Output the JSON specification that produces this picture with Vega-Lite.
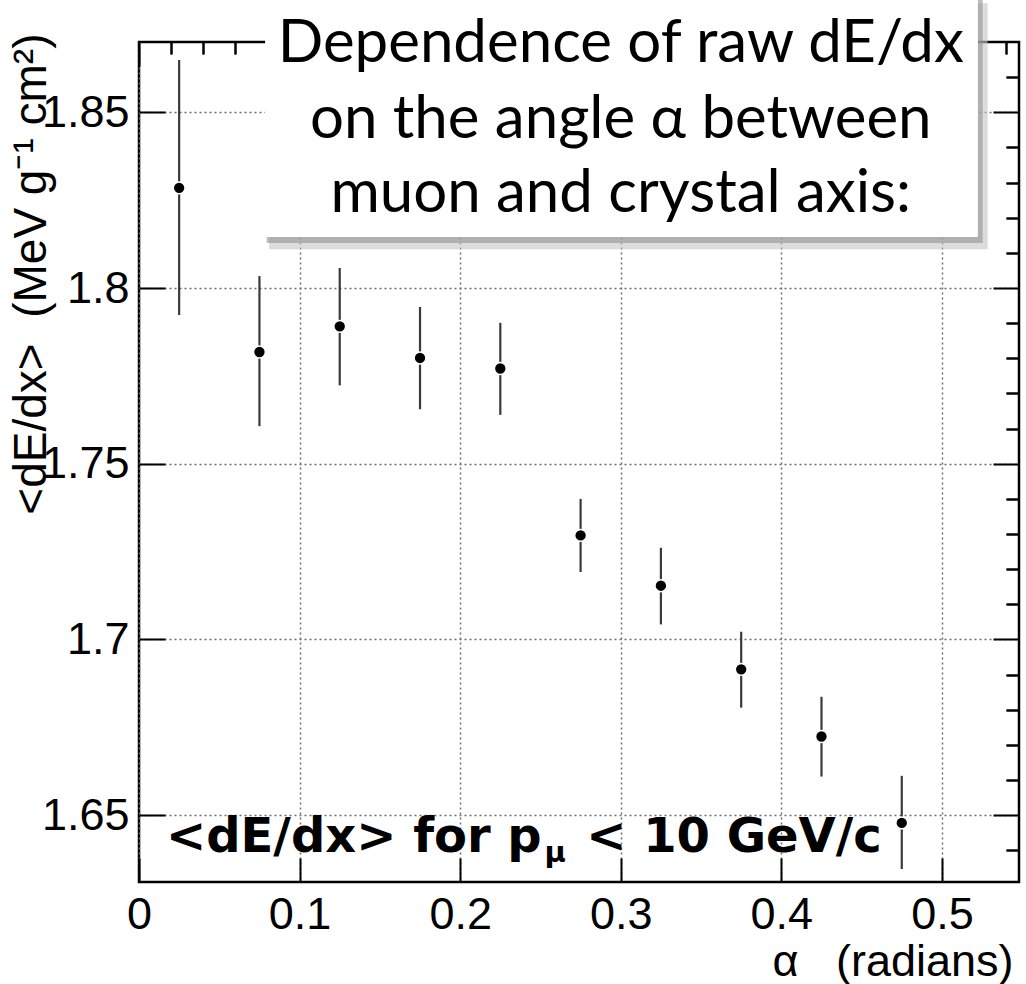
{
  "$schema": "https://vega.github.io/schema/vega-lite/v6.json",
  "width": 880,
  "height": 840,
  "autosize": "none",
  "padding": {"left": 139, "top": 42, "right": 7, "bottom": 102},
  "background": "white",
  "config": {
    "view": {"stroke": "black", "strokeWidth": 2.5},
    "axis": {
      "labelFont": "Liberation Sans",
      "titleFont": "Liberation Sans",
      "labelColor": "black",
      "titleColor": "black",
      "titleFontWeight": "normal",
      "tickColor": "black",
      "domain": false,
      "gridColor": "#6f6f6f",
      "gridDash": [2, 3],
      "gridWidth": 1.5
    }
  },
  "datasets": {
    "pts": [
      {"x": 0.025, "y": 1.8285, "lo": 1.7923, "hi": 1.8649},
      {"x": 0.075, "y": 1.7818, "lo": 1.7607, "hi": 1.8034},
      {"x": 0.125, "y": 1.7891, "lo": 1.7723, "hi": 1.8057},
      {"x": 0.175, "y": 1.7801, "lo": 1.7655, "hi": 1.7946},
      {"x": 0.225, "y": 1.7771, "lo": 1.7639, "hi": 1.7901},
      {"x": 0.275, "y": 1.7296, "lo": 1.7192, "hi": 1.74},
      {"x": 0.325, "y": 1.7153, "lo": 1.7043, "hi": 1.7261},
      {"x": 0.375, "y": 1.6915, "lo": 1.6806, "hi": 1.7022},
      {"x": 0.425, "y": 1.6724, "lo": 1.661, "hi": 1.6837},
      {"x": 0.475, "y": 1.6478, "lo": 1.6347, "hi": 1.6612}
    ],
    "box": [{"x": 0.0785, "x2": 0.5224, "y": 1.8825, "y2": 1.8145}],
    "shadowA": [{"x": 0.0795, "x2": 0.5254, "y": 1.882, "y2": 1.8128}],
    "shadowB": [{"x": 0.081, "x2": 0.5285, "y": 1.881, "y2": 1.811}],
    "notes": [
      {"x": 0.3, "y": 1.8643, "label": "Dependence of raw dE/dx"},
      {"x": 0.3, "y": 1.8427, "label": "on the angle α between"},
      {"x": 0.3, "y": 1.8216, "label": "muon and crystal axis:"}
    ],
    "cond1": [{"x": 0.0168, "y": 1.6394, "label": "<dE/dx> for p"}],
    "cond2": [{"x": 0.2525, "y": 1.6366, "label": "μ"}],
    "cond3": [{"x": 0.2785, "y": 1.6394, "label": "<\u00a010 GeV/c"}]
  },
  "layer": [
    {
      "data": {"name": "pts"},
      "mark": {"type": "rule", "color": "#3a3a3a", "strokeWidth": 2.2},
      "encoding": {
        "x": {
          "field": "x", "type": "quantitative",
          "scale": {"domain": [0, 0.548], "nice": false, "zero": false},
          "axis": {
            "values": [0, 0.1, 0.2, 0.3, 0.4, 0.5], "format": "~g",
            "ticks": false, "tickSize": 0, "labelFontSize": 45, "labelPadding": 10,
            "grid": true, "labelFlush": false,
            "title": "α\u00a0\u00a0\u00a0(radians)", "titleFontSize": 45,
            "titleAnchor": "end", "titleAlign": "right", "titleX": 874, "titleY": 93, "titleBaseline": "alphabetic"
          }
        },
        "y": {
          "field": "lo", "type": "quantitative",
          "scale": {"domain": [1.631, 1.87], "nice": false, "zero": false},
          "axis": {
            "values": [1.65, 1.7, 1.75, 1.8, 1.85], "format": "~g",
            "ticks": false, "tickSize": 0, "labelFontSize": 45, "labelPadding": 10,
            "grid": true, "labelFlush": false,
            "title": "<dE/dx>\u00a0\u00a0(MeV\u00a0g⁻¹\u00a0cm²)", "titleFontSize": 46,
            "titleX": -108, "titleY": -9, "titleAngle": -90, "titleAlign": "right", "titleBaseline": "middle"
          }
        },
        "y2": {"field": "hi"}
      }
    },
    {
      "data": {"name": "pts"},
      "mark": {"type": "circle", "color": "black", "opacity": 1, "size": 140, "stroke": "white", "strokeWidth": 1.5},
      "encoding": {
        "x": {
          "field": "x", "type": "quantitative",
          "axis": {
            "values": [0.02, 0.04, 0.06, 0.08, 0.12, 0.14, 0.16, 0.18, 0.22, 0.24, 0.26, 0.28, 0.32, 0.34, 0.36, 0.38, 0.42, 0.44, 0.46, 0.48, 0.52, 0.54],
            "offset": -12, "tickSize": 12, "tickWidth": 2, "labels": false, "grid": false, "title": null
          }
        },
        "y": {
          "field": "y", "type": "quantitative",
          "axis": {
            "values": [1.64, 1.66, 1.67, 1.68, 1.69, 1.71, 1.72, 1.73, 1.74, 1.76, 1.77, 1.78, 1.79, 1.81, 1.82, 1.83, 1.84, 1.86],
            "offset": -13, "tickSize": 13, "tickWidth": 2, "labels": false, "grid": false, "title": null
          }
        }
      }
    },
    {
      "data": {"name": "shadowB"},
      "mark": {"type": "rect", "color": "#c4c4c4", "opacity": 0.6},
      "encoding": {
        "x": {"field": "x", "type": "quantitative",
          "axis": {"orient": "top", "values": [0, 0.1, 0.2, 0.3, 0.4, 0.5], "offset": -24, "tickSize": 24, "tickWidth": 2, "labels": false, "grid": false, "title": null}},
        "x2": {"field": "x2"},
        "y": {"field": "y", "type": "quantitative",
          "axis": {"orient": "right", "values": [1.65, 1.7, 1.75, 1.8, 1.85], "offset": -26, "tickSize": 26, "tickWidth": 2, "labels": false, "grid": false, "title": null}},
        "y2": {"field": "y2"}
      }
    },
    {
      "data": {"name": "shadowA"},
      "mark": {"type": "rect", "color": "#939393", "opacity": 0.6},
      "encoding": {
        "x": {"field": "x", "type": "quantitative",
          "axis": {"orient": "top",
            "values": [0.02, 0.04, 0.06, 0.08, 0.12, 0.14, 0.16, 0.18, 0.22, 0.24, 0.26, 0.28, 0.32, 0.34, 0.36, 0.38, 0.42, 0.44, 0.46, 0.48, 0.52, 0.54],
            "offset": -12, "tickSize": 12, "tickWidth": 2, "labels": false, "grid": false, "title": null}},
        "x2": {"field": "x2"},
        "y": {"field": "y", "type": "quantitative",
          "axis": {"orient": "right",
            "values": [1.64, 1.66, 1.67, 1.68, 1.69, 1.71, 1.72, 1.73, 1.74, 1.76, 1.77, 1.78, 1.79, 1.81, 1.82, 1.83, 1.84, 1.86],
            "offset": -13, "tickSize": 13, "tickWidth": 2, "labels": false, "grid": false, "title": null}},
        "y2": {"field": "y2"}
      }
    },
    {
      "data": {"name": "box"},
      "mark": {"type": "rect", "color": "white", "opacity": 1},
      "encoding": {
        "x": {"field": "x", "type": "quantitative",
          "axis": {"values": [0, 0.1, 0.2, 0.3, 0.4, 0.5], "offset": -24, "tickSize": 24, "tickWidth": 2, "labels": false, "grid": false, "title": null}},
        "x2": {"field": "x2"},
        "y": {"field": "y", "type": "quantitative",
          "axis": {"values": [1.65, 1.7, 1.75, 1.8, 1.85], "offset": -26, "tickSize": 26, "tickWidth": 2, "labels": false, "grid": false, "title": null}},
        "y2": {"field": "y2"}
      }
    },
    {
      "data": {"name": "notes"},
      "mark": {"type": "text", "font": "Lato", "fontSize": 60, "align": "center", "baseline": "alphabetic", "color": "black"},
      "encoding": {
        "x": {"field": "x", "type": "quantitative", "axis": null},
        "y": {"field": "y", "type": "quantitative", "axis": null},
        "text": {"field": "label"}
      }
    },
    {
      "data": {"name": "cond1"},
      "mark": {"type": "text", "font": "DejaVu Sans", "fontWeight": "bold", "fontSize": 48, "align": "left", "baseline": "alphabetic", "color": "black"},
      "encoding": {
        "x": {"field": "x", "type": "quantitative", "axis": null},
        "y": {"field": "y", "type": "quantitative", "axis": null},
        "text": {"field": "label"}
      }
    },
    {
      "data": {"name": "cond2"},
      "mark": {"type": "text", "font": "DejaVu Sans", "fontWeight": "bold", "fontSize": 29, "align": "left", "baseline": "alphabetic", "color": "black"},
      "encoding": {
        "x": {"field": "x", "type": "quantitative", "axis": null},
        "y": {"field": "y", "type": "quantitative", "axis": null},
        "text": {"field": "label"}
      }
    },
    {
      "data": {"name": "cond3"},
      "mark": {"type": "text", "font": "DejaVu Sans", "fontWeight": "bold", "fontSize": 48, "align": "left", "baseline": "alphabetic", "color": "black"},
      "encoding": {
        "x": {"field": "x", "type": "quantitative", "axis": null},
        "y": {"field": "y", "type": "quantitative", "axis": null},
        "text": {"field": "label"}
      }
    }
  ],
  "resolve": {"axis": {"x": "independent", "y": "independent"}}
}
